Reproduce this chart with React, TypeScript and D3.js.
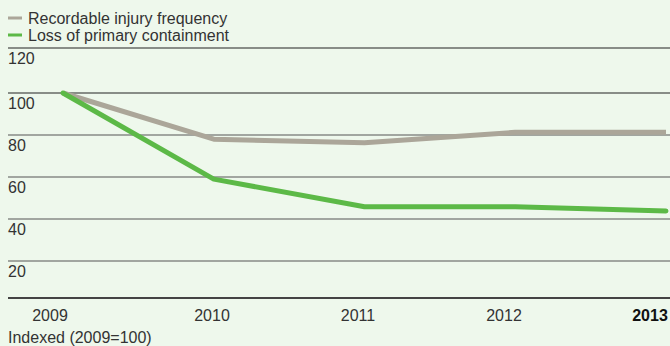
import React from "react";
import * as d3 from "d3";

const years = ["2009", "2010", "2011", "2012", "2013"];
const recordableInjury = [100, 78, 76.3, 81.3, 81.3];
const lossOfContainment = [100, 59, 45.8, 45.8, 43.8];
const yTicks = [120, 100, 80, 60, 40, 20];
const legendLabels = ["Recordable injury frequency", "Loss of primary containment"];
const titleText = "Safety key indicators";
const footnote = "Indexed (2009=100)";

const W = 670;
const H = 346;
const GRAY = "#aba699";
const GREEN = "#5cb947";
const FONT = "'Liberation Sans', Arial, sans-serif";

export default function App() {
  const x = d3.scalePoint<string>().domain(years).range([63, 666]);
  const y = d3.scaleLinear().domain([0, 120]).range([303, 51]);
  const line = d3
    .line<number>()
    .x((_, i) => x(years[i]) as number)
    .y((d) => y(d));
  const labelX = [50, 212, 358, 504, 650];
  const gridY = (t: number) => (t === 120 ? 48 : y(t));

  return (
    <svg
      width={W}
      height={H}
      style={{ position: "fixed", left: 0, top: 0, background: "#eef8ec" }}
      fontFamily={FONT}
    >
      <rect x={0} y={0} width={W} height={H} fill="#eef8ec" />
      <text x={8} y={-4} fontSize={20} fontWeight="bold" fontStyle="italic" fill={GREEN}>
        {titleText}
      </text>
      {legendLabels.map((l, i) => (
        <g key={l}>
          <line x1={8} x2={22} y1={18 + i * 17} y2={18 + i * 17} stroke={i === 0 ? GRAY : GREEN} strokeWidth={3} />
          <text x={28} y={24 + i * 17} fontSize={16} fill="#333">
            {l}
          </text>
        </g>
      ))}
      {yTicks.map((t) => (
        <g key={t}>
          <line x1={8} x2={670} y1={gridY(t)} y2={gridY(t)} stroke={t >= 100 ? "#222" : "#555"} strokeWidth={1} />
          <text x={8} y={gridY(t) + 16} fontSize={16} fill="#333">
            {t}
          </text>
        </g>
      ))}
      <line x1={8} x2={670} y1={298} y2={298} stroke="#444" strokeWidth={2} />
      <path d={line(recordableInjury) || ""} fill="none" stroke={GRAY} strokeWidth={5} strokeLinejoin="round" />
      <path d={line(lossOfContainment) || ""} fill="none" stroke={GREEN} strokeWidth={5} strokeLinejoin="round" strokeLinecap="round" />
      {years.map((yr, i) => (
        <text
          key={yr}
          x={labelX[i]}
          y={321}
          fontSize={16}
          textAnchor="middle"
          fill={i === years.length - 1 ? "#111" : "#333"}
          fontWeight={i === years.length - 1 ? "bold" : "normal"}
        >
          {yr}
        </text>
      ))}
      <text x={8} y={343} fontSize={16} fill="#333">
        {footnote}
      </text>
    </svg>
  );
}
